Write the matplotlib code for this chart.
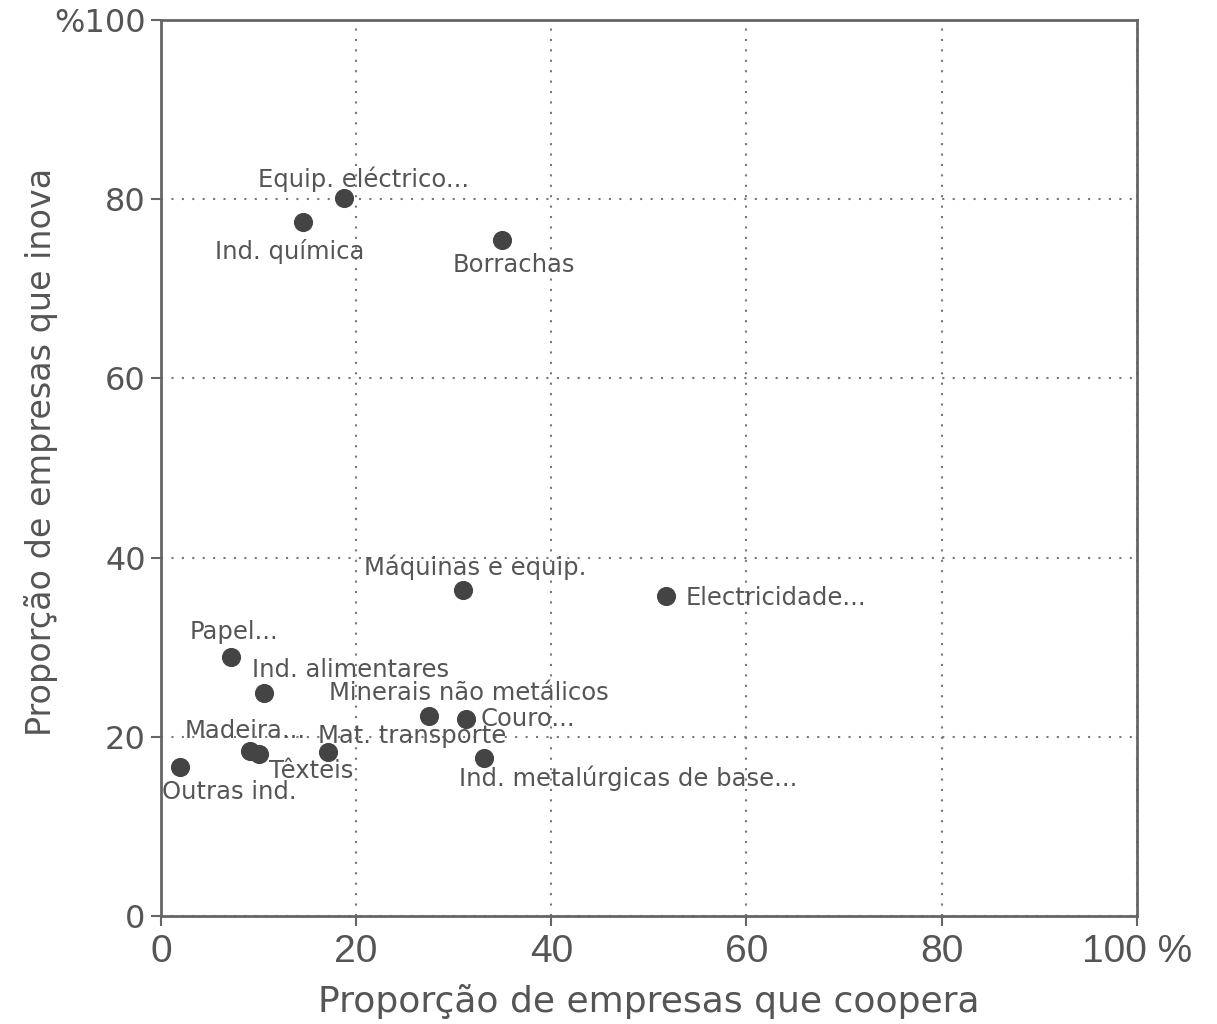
import matplotlib.pyplot as plt

plt.rcParams['font.family'] = ['DejaVu Sans']

SECTORS = ['Equip. eléctrico...', 'Ind. química', 'Borrachas', 'Máquinas e equip.',
           'Electricidade...', 'Papel...', 'Ind. alimentares', 'Minerais não metálicos',
           'Couro...', 'Madeira...', 'Têxteis', 'Mat. transporte',
           'Ind. metalúrgicas de base...', 'Outras ind.']
COOPERA = [18.8, 14.6, 34.9, 31.0, 51.8, 7.2, 10.6, 27.5, 31.3, 9.1, 10.0, 17.1, 33.1, 1.9]
INOVA = [80.1, 77.5, 75.4, 36.4, 35.7, 28.9, 24.9, 22.3, 22.0, 18.4, 18.1, 18.3, 17.6, 16.6]

XTICKS = [0, 20, 40, 60, 80, 100]
XTICK_LABELS = ['0', '20', '40', '60', '80', '100 %']
YTICKS = [0, 20, 40, 60, 80, 100]
YTICK_LABELS = ['0', '20', '40', '60', '80', '%100']

# label offsets in pixels (dx, dy upward) and alignment
LABEL_POS = [(19, 19, 'center'), (-14, -30, 'center'), (12, -25, 'center'), (12, 23, 'center'),
             (19, -2, 'left'), (3, 25, 'center'), (-12, 23, 'left'), (40, 23, 'center'),
             (14, 0, 'left'), (-5, 20, 'center'), (53, -17, 'center'), (-10, 16, 'left'),
             (-25, -20, 'left'), (-18, -25, 'left')]

TXT = '#555555'
LINE = '#666666'

fig = plt.figure(figsize=(12.17, 10.24), dpi=100)
ax = fig.add_axes([0.1323, 0.1055, 0.8017, 0.875])

ax.scatter(COOPERA, INOVA, s=190, color='#444444', zorder=3, linewidths=0)
for name, x, y, (dx, dy, ha) in zip(SECTORS, COOPERA, INOVA, LABEL_POS):
    ax.annotate(name, (x, y), xytext=(dx, dy), textcoords='offset pixels',
                ha=ha, va='center', fontsize=17.5, color=TXT, zorder=4)

ax.set_xlim(0, 100)
ax.set_ylim(0, 100)
ax.set_xticks(XTICKS)
ax.set_xticklabels(XTICK_LABELS, family='Liberation Sans', fontsize=28)
ax.set_yticks(YTICKS)
ax.set_yticklabels(YTICK_LABELS, fontsize=23)
ax.tick_params(colors=LINE, labelcolor=TXT, direction='out', length=7, width=1.5)
ax.tick_params(axis='x', pad=6)
ax.tick_params(axis='y', pad=4)
for s in ax.spines.values():
    s.set_color(LINE)
    s.set_linewidth(2)
ax.grid(True, linestyle=(0, (1, 4)), color='#777777', linewidth=1.5)
ax.set_axisbelow(True)

ax.set_xlabel('Proporção de empresas que coopera', fontsize=26, color=TXT, labelpad=10)
ax.set_ylabel('Proporção de empresas que inova', fontsize=24, color=TXT)
ax.yaxis.set_label_coords(-0.106, 0.518)

fig.savefig('out.png', dpi=100)
